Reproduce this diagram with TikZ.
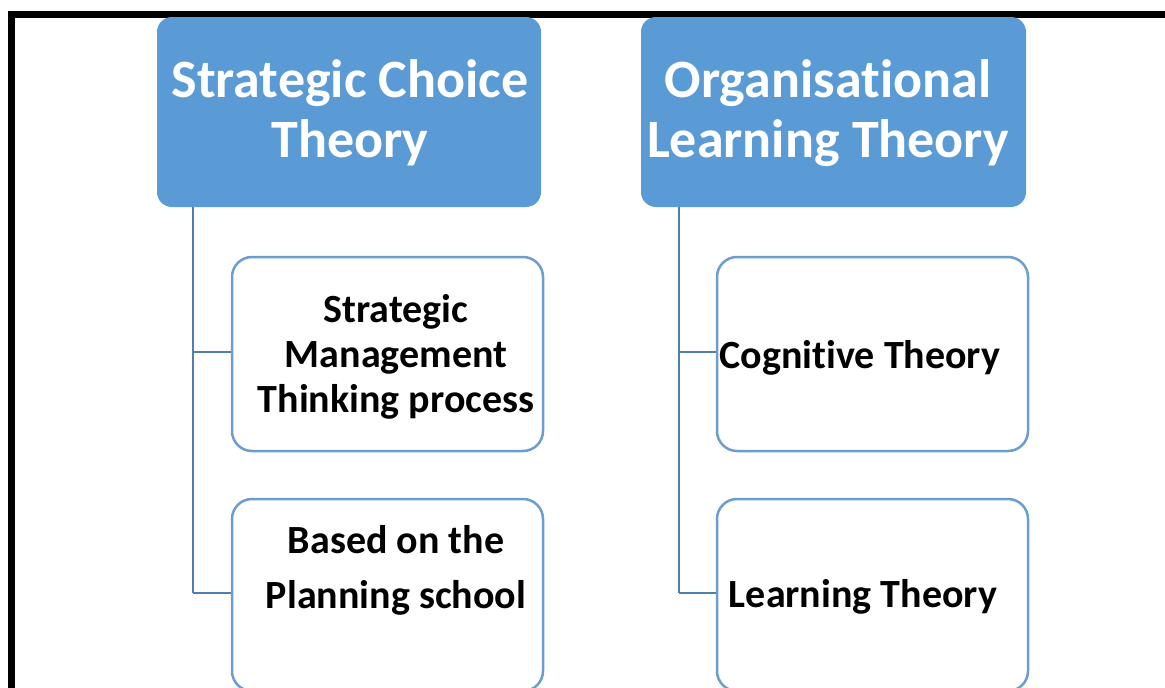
\documentclass[tikz,border=0pt]{standalone}
\usepackage{fontspec}
\setmainfont[Ligatures=NoCommon]{Carlito}
\definecolor{headblue}{HTML}{5B9BD5}
\definecolor{childline}{HTML}{6C9DCD}
\definecolor{linkline}{HTML}{4F7FAE}
\begin{document}
\begin{tikzpicture}[x=1pt,y=-1pt,
  head/.style={draw=none,fill=headblue,rounded corners=15pt,inner sep=0pt,
    text=white,font=\fontsize{54}{60}\selectfont\bfseries,align=center},
  child/.style={draw=childline,line width=2.5pt,fill=white,rounded corners=20pt,inner sep=0pt},
  ctext/.style={font=\fontsize{40}{45}\selectfont\bfseries,align=center,inner sep=0pt},
  link/.style={draw=linkline,line width=2.5pt},
  frame/.style={draw=black,line width=7pt}]
\useasboundingbox (0,0) rectangle (1165,688);
\fill[white] (0,0) rectangle (1165,688);
% frame
\draw[frame] (8,14) -- (1165,14);
\draw[frame] (11.5,11) -- (11.5,700);
% headers
\node[head,minimum width=384pt,minimum height=190pt] (sct) at (349,112) {};
\node[head,minimum width=385pt,minimum height=190pt] (olt) at (833.5,112) {};
\node[head,fill=none] (scttext) at (350,113) {Strategic Choice\\Theory};
\node[head,fill=none] (olttext) at (828,113) {Organisational\\Learning Theory};
% connectors
\coordinate (lt) at (193,207);
\coordinate (rt) at (679,207);
\coordinate (l1) at (193,352);
\coordinate (l2) at (193,593);
\coordinate (r1) at (679,352);
\coordinate (r2) at (679,593);
\draw[link] (lt) -- (l2);
\draw[link] (rt) -- (r2);
% children
\node[child,minimum width=311pt,minimum height=194pt] (smt) at (387.5,354) {};
\node[child,minimum width=311pt,minimum height=192pt] (bps) at (387.5,595) {};
\node[child,minimum width=311pt,minimum height=194pt] (cog) at (872.5,354) {};
\node[child,minimum width=311pt,minimum height=192pt] (lrn) at (872.5,595) {};
\draw[link] (l1) -- (l1 -| smt.west);
\draw[link] (l2) -- (l2 -| bps.west);
\draw[link] (r1) -- (r1 -| cog.west);
\draw[link] (r2) -- (r2 -| lrn.west);
% texts
\node[ctext] (smttext) at (396,357) {Strategic\\Management\\Thinking process};
\node[ctext,font=\fontsize{40}{55}\selectfont\bfseries] (bpstext) at (396,570) {Based on the\\Planning school};
\node[ctext] (cogtext) at (860,358) {Cognitive Theory};
\node[ctext] (lrntext) at (863,597) {Learning Theory};
\end{tikzpicture}
\end{document}
